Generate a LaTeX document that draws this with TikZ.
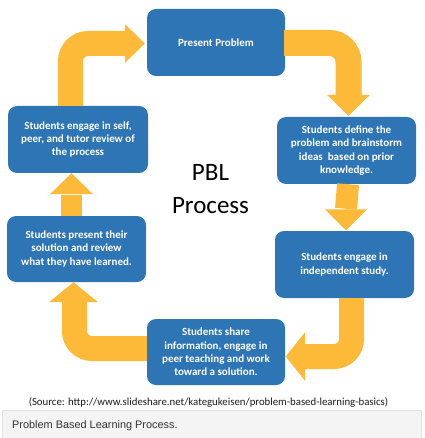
\documentclass[tikz,border=0pt]{standalone}
\usepackage{fontspec}
\setmainfont{Carlito}
\newfontfamily\capfont{Liberation Sans}
\definecolor{boxblue}{HTML}{2E75B6}
\definecolor{arrowgold}{RGB}{252,186,56}
\definecolor{capgray}{HTML}{F4F4F4}
\definecolor{capline}{HTML}{E2E2E2}
\definecolor{captext}{HTML}{333333}
\tikzset{
  box/.style={fill=boxblue, rounded corners=9pt, text=white, align=center,
    font=\fontsize{11}{13.4}\selectfont\bfseries, inner sep=0pt},
  shaft/.style={draw=arrowgold, line cap=butt, rounded corners=17.5pt},
  headfill/.style={fill=arrowgold},
  titletext/.style={font=\fontsize{25}{31}\selectfont, anchor=base, inner sep=0pt},
}
\begin{document}
\begin{tikzpicture}[x=1pt,y=-1pt]
\useasboundingbox (0,0) rectangle (424,438);
% boxes
\node[box, minimum width=138pt, minimum height=67pt] (b1) at (216,42.5) {Present Problem};
\node[box, minimum width=139pt, minimum height=67pt] (b2) at (346.5,150.5) {Students define the\\problem and brainstorm\\ideas\ \ based on prior\\knowledge.};
\node[box, minimum width=139pt, minimum height=67pt] (b3) at (344.5,264.5) {Students engage in\\independent study.};
\node[box, minimum width=138pt, minimum height=66pt] (b4) at (216,352) {Students share\\information, engage in\\peer teaching and work\\toward a solution.};
\node[box, minimum width=139pt, minimum height=66pt] (b5) at (76.5,249) {Students present their\\solution and review\\what they have learned.};
\node[box, minimum width=140pt, minimum height=67pt] (b6) at (78,139.5) {Students engage in self,\\peer, and tutor review of\\the process};
% centre title
\node[titletext] (pbl) at (210.5,181) {PBL};
\node[titletext] (process) at (210.5,213) {Process};
% arrow 1: b6 -> b1
\coordinate (t1) at ([yshift=-1pt,xshift=-2pt]b1.west);
\draw[shaft, line width=25pt] ([xshift=-7.5pt]b6.north) |- ([xshift=-19.5pt]t1);
\fill[headfill] (t1) -- ++(-20,-19.5) -- ++(0,39) -- cycle;
% arrow 2: b1 -> b2
\coordinate (t2) at ([xshift=2pt,yshift=1pt]b2.north);
\draw[shaft, line width=26pt, rounded corners=19pt] ([xshift=-1pt,yshift=-0.5pt]b1.east) -| ([yshift=20.5pt]t2);
\fill[headfill] (t2) -- ++(-21.5,-21) -- ++(43,0) -- cycle;
% arrow 3: b2 -> b3
\coordinate (t3) at ([xshift=1.5pt,yshift=0.5pt]b3.north);
\draw[shaft, line width=22pt] ([xshift=1.5pt]b2.south) -- ([yshift=21.5pt]t3);
\fill[headfill] (t3) -- ++(-21,-21) -- ++(42,0) -- cycle;
% arrow 4: b3 -> b4
\coordinate (t4) at ([xshift=0.5pt,yshift=-4.5pt]b4.east);
\draw[shaft, line width=25pt] ([xshift=7pt]b3.south) |- ([xshift=19.5pt]t4);
\fill[headfill] (t4) -- ++(19.5,-24.5) -- ++(0,49) -- cycle;
% arrow 5: b4 -> b5
\coordinate (t5) at ([xshift=-3pt]b5.south);
\draw[shaft, line width=25pt] ([yshift=3.5pt]b4.west) -| ([xshift=1pt,yshift=-19.5pt]t5);
\fill[headfill] (t5) -- ++(24.5,20) -- ++(-49,0) -- cycle;
% arrow 6: b5 -> b6
\coordinate (t6) at ([xshift=-6.5pt]b6.south);
\draw[shaft, line width=21pt] ([xshift=-5pt]b5.north) -- ([yshift=-21.5pt]t6);
\fill[headfill] (t6) -- ++(21.5,21) -- ++(-43,0) -- cycle;
% source line
\node[inner sep=0pt, text=black!90, font=\fontsize{10.8}{13}\selectfont] (src) at (208.5,402.5) {(Source: http://www.slideshare.net/kategukeisen/problem-based-learning-basics)};
% caption bar
\path[fill=capgray, draw=capline, line width=0.6pt] (2,410.5) rectangle (421,438);
\node[inner sep=0pt, anchor=base west, text=captext, font=\capfont\fontsize{10.9}{13}\selectfont] (cap) at (12,428) {Problem Based Learning Process.};
\end{tikzpicture}
\end{document}
